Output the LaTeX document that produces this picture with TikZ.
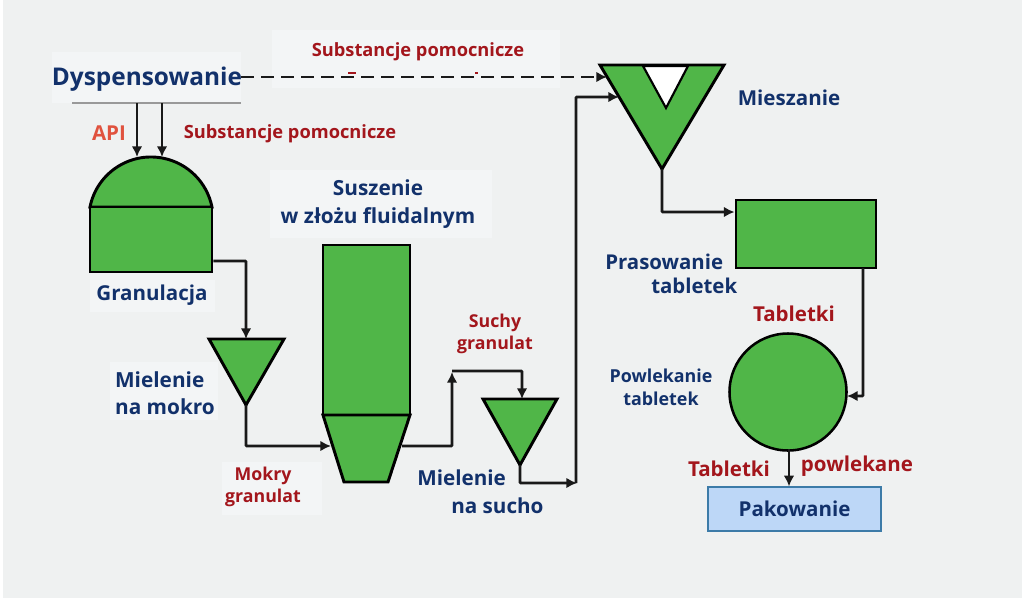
\documentclass[tikz,border=0pt]{standalone}
\usepackage{fontspec}
\setmainfont{Open Sans}
\usetikzlibrary{arrows.meta}
\definecolor{bgc}{HTML}{EFF1F1}
\definecolor{patch}{HTML}{F3F5F6}
\definecolor{gr}{HTML}{50B648}
\definecolor{navy}{HTML}{12316B}
\definecolor{dred}{HTML}{A3161C}
\definecolor{apired}{HTML}{E0523E}
\definecolor{pak}{HTML}{BDD7F7}
\definecolor{pakb}{HTML}{3C7BA8}
\tikzset{
  x=0.75pt,y=-0.75pt,
  unit/.style={draw=black,fill=gr,line width=2.2pt,line join=miter},
  flow/.style={draw=black!90,line width=1.9pt,-{Latex[length=8pt,width=8pt]},rounded corners=0.5pt},
  flowdash/.style={flow,dash pattern=on 9.5pt off 5.5pt},
  lab/.style={inner sep=0pt,font=\bfseries,text=navy},
  redlab/.style={lab,text=dred},
  L15/.style={font=\bfseries\fontsize{15.4}{19}\selectfont},
  L13/.style={font=\bfseries\fontsize{13.7}{19.5}\selectfont},
}
\begin{document}
\begin{tikzpicture}
\useasboundingbox (0,0) rectangle (1024,600);
\fill[white] (0,0) rectangle (1024,600);
\fill[bgc] (3,0) rectangle (1022,598);
% pale patches behind the labels
\fill[patch] (52,52) rectangle (241,103);
\fill[patch] (272,30) rectangle (560,88);
\fill[patch] (270,170) rectangle (492,238);
\fill[patch] (90,280) rectangle (215,312);
\fill[patch] (110,362) rectangle (218,420);
\fill[patch] (222,462) rectangle (322,515);

% units
\path[unit] (90,207) arc[start angle=191.3,end angle=348.7,x radius=62.2,y radius=62.2] -- cycle;
\node[unit,rectangle,inner sep=0pt,minimum width=91.5pt,minimum height=48.75pt] (gran) at (151,239.5) {};
\coordinate (granT1) at (137,157); \coordinate (granT2) at (162,157);
\coordinate (granR) at (gran.east |- 0,261);

\path[unit] (209,339) -- (284,339) -- (246,405) -- cycle;
\coordinate (wetT) at (246,339); \coordinate (wetB) at (246,405);

\node[unit,rectangle,inner sep=0pt,minimum width=65.25pt,minimum height=127.5pt] (dryer) at (366.5,330) {};
\path[unit] (323,415) -- (410,415) -- (388,482) -- (344,482) -- cycle;
\coordinate (coneL) at (331,446); \coordinate (coneR) at (402,446);

\path[unit] (483,399) -- (557,399) -- (520,465) -- cycle;
\coordinate (dryT) at (522,399); \coordinate (dryB) at (520,465);

\path[unit] (600,65) -- (724,65) -- (662,169) -- cycle;
\path[draw=black,fill=white,line width=1.6pt] (643,66) -- (688,66) -- (666,108) -- cycle;
\coordinate (mixD) at (607,77); \coordinate (mixS) at (619,97); \coordinate (mixB) at (662,169);

\node[unit,rectangle,inner sep=0pt,minimum width=105pt,minimum height=51pt] (press) at (806,234) {};
\coordinate (pressL) at (press.west |- 0,212);
\coordinate (pressB) at (863,268);

\node[unit,circle,inner sep=0pt,line width=1.9pt,minimum size=87.75pt] (coat) at (788,392) {};
\coordinate (coatR) at (847,396);
\coordinate (coatB) at (789,449);

\node[rectangle,draw=pakb,fill=pak,line width=1pt,inner sep=0pt,minimum width=129.75pt,minimum height=33pt,lab,L15] (pack) at (794.5,509) {Pakowanie};

% Dyspensowanie
\node[lab,font=\bfseries\fontsize{18.3}{22}\selectfont] (disp) at (147,79) {Dyspensowanie};
\coordinate (dispR) at (241,77);
\coordinate (dispL1) at (137,103); \coordinate (dispL2) at (162,103);
\draw[black!40,line width=0.8pt] (72,103) -- (241,103);

% connectors
\draw[flow] (dispL1) -- (granT1);
\draw[flow] (dispL2) -- (granT2);
\draw[flowdash] (dispR) -- (mixD);
\draw[flow] (granR) -| (wetT);
\draw[flow] (wetB) |- (coneL);
\draw[flow] (coneR) -- (452,446) -- (452,372);
\draw[flow] (452,371) -- (522,371) -- (dryT);
\draw[flow] (dryB) |- (577,483);
\draw[flow] (576,483) |- (mixS);
\draw[flow] (mixB) |- (pressL);
\draw[flow] (pressB) |- (coatR);
\draw[flow] (coatB) -- (pack.north -| coatB);

% stray marks
\draw[dred,line width=1pt] (348,73) -- (356,73);
\draw[dred,line width=1pt] (475,73) -- (478,73);

% labels
\node[redlab,L13] (t1) at (418,52) {Substancje pomocnicze};
\node[redlab,L13] (t2) at (290,134) {Substancje pomocnicze};
\node[lab,text=apired,L15] (api) at (109,133) {API};
\node[lab,L15] (t3) at (152,295) {Granulacja};
\node[lab,align=center,font=\bfseries\fontsize{15.6}{20.5}\selectfont] (t4) at (378,204) {Suszenie\\w złożu fluidalnym};
\node[lab,align=left,font=\bfseries\fontsize{15.6}{20}\selectfont] (t5) at (165,393) {Mielenie\\na mokro};
\node[redlab,align=center,font=\bfseries\fontsize{13.3}{16.5}\selectfont] (t6) at (263,487) {Mokry\\granulat};
\node[redlab,align=center,font=\bfseries\fontsize{13.3}{17}\selectfont] (t7) at (495,334) {Suchy\\granulat};
\node[lab,align=left,font=\bfseries\fontsize{15.5}{21}\selectfont,anchor=north west] (t8) at (417,470) {Mielenie\\\hspace*{25.5pt}na sucho};
\node[lab,L15] (t9) at (789,98) {Mieszanie};
\node[lab,align=left,font=\bfseries\fontsize{15.3}{18}\selectfont,anchor=north west] (t10) at (605,254) {Prasowanie\\\hspace*{34.5pt}tabletek};
\node[redlab,L15] (t11) at (794,314) {Tabletki};
\node[lab,align=center,font=\bfseries\fontsize{13.4}{17.2}\selectfont] (t12) at (661,387.5) {Powlekanie\\tabletek};
\node[redlab,L15] (t13) at (729,469) {Tabletki};
\node[redlab,L15] (t14) at (857,466) {powlekane};
\end{tikzpicture}
\end{document}
